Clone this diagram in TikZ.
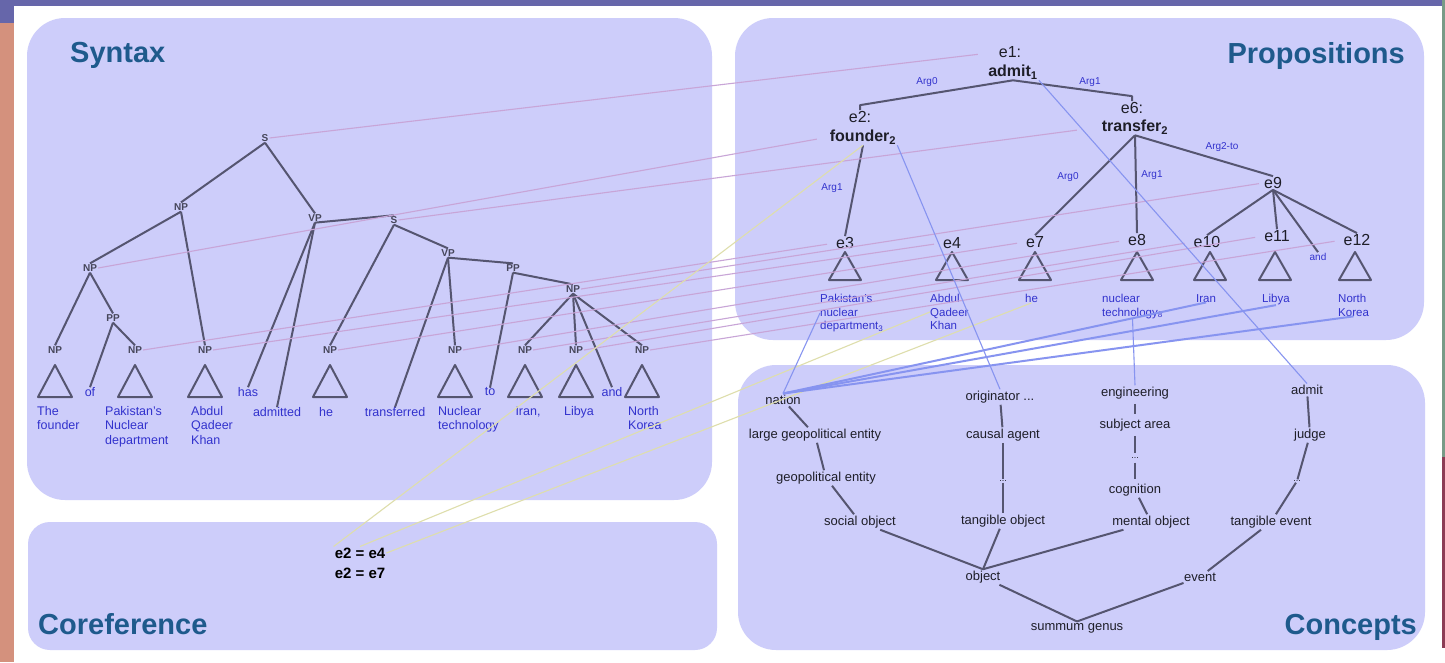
\documentclass[tikz,border=0pt]{standalone}
\usepackage{fontspec}
\setmainfont{Liberation Sans}
\usetikzlibrary{calc}

\definecolor{panelfill}{RGB}{205,205,250}
\definecolor{titleblue}{RGB}{30,90,140}
\definecolor{treeline}{RGB}{85,85,112}
\definecolor{catgray}{RGB}{70,70,90}
\definecolor{leafblue}{RGB}{50,50,205}
\definecolor{proptext}{RGB}{30,30,40}
\definecolor{concepttext}{RGB}{30,30,40}
\definecolor{pinkline}{RGB}{200,165,215}
\definecolor{blueline}{RGB}{135,148,240}
\definecolor{yellowline}{RGB}{222,222,172}
\definecolor{barpurple}{RGB}{102,102,170}
\definecolor{salmon}{RGB}{212,145,125}
\definecolor{sidegreen}{RGB}{120,155,135}
\definecolor{sidemaroon}{RGB}{140,60,85}

\tikzset{
  treeedge/.style={draw=treeline, line width=2pt, line join=round},
  thinedge/.style={draw=treeline, line width=1.6pt},
  catlabel/.style={font=\bfseries\fontsize{10}{11}\selectfont, text=catgray, inner sep=1pt},
  leaf/.style={font=\fontsize{12.5}{14.5}\selectfont, text=leafblue, inner sep=0pt, align=left},
  argl/.style={font=\fontsize{10}{11}\selectfont, text=leafblue, inner sep=1pt},
  eid/.style={font=\fontsize{16}{18}\selectfont, text=proptext, inner sep=1pt},
  pred/.style={font=\bfseries\fontsize{16}{18}\selectfont, text=proptext, inner sep=1pt},
  pleaf/.style={font=\fontsize{11.5}{13.5}\selectfont, text=leafblue, inner sep=0pt, align=left},
  concept/.style={font=\fontsize{13}{15}\selectfont, text=concepttext, inner sep=1.5pt},
  dotsnode/.style={font=\fontsize{9}{10}\selectfont, text=concepttext, inner sep=1pt},
  paneltitle/.style={font=\bfseries\fontsize{29}{32}\selectfont, text=titleblue, inner sep=0pt},
  corefnode/.style={font=\bfseries\fontsize{15}{17}\selectfont, text=black, inner sep=1pt},
  panel/.style={fill=panelfill, rounded corners=38pt},
  pinklink/.style={draw=pinkline, line width=1.1pt},
  bluelink/.style={draw=blueline, line width=1.1pt},
  bluethick/.style={draw=blueline, line width=2pt},
  yellowlink/.style={draw=yellowline, line width=1.1pt},
  stri/.pic={\draw[treeedge] (0,0) -- (-17,32) -- (17,32) -- cycle;},
  ptri/.pic={\draw[treeedge] (0,0) -- (-16,28) -- (16,28) -- cycle;}
}

\begin{document}
\begin{tikzpicture}[x=1pt,y=-1pt]
\useasboundingbox (0,0) rectangle (1445,662);

% page frame
\fill[white] (0,0) rectangle (1445,662);
\fill[barpurple] (0,0) rectangle (1442,6);
\fill[barpurple] (0,0) rectangle (14,23);
\fill[salmon] (0,23) rectangle (14,662);
\fill[sidegreen] (1442,0) rectangle (1445,457);
\fill[sidemaroon] (1442,457) rectangle (1445,648);

% panels
\fill[panel] (27,18) rectangle (712,500);
\fill[panel, rounded corners=22pt] (28,522) rectangle (717,650);
\fill[panel] (735,18) rectangle (1424,340);
\fill[panel] (738,365) rectangle (1425,650);

% panel titles
\node[paneltitle, anchor=base west] (tSyn) at (70,62) {Syntax};
\node[paneltitle, anchor=base east] (tProp) at (1405,63) {Propositions};
\node[paneltitle, anchor=base west] (tCoref) at (38,634) {Coreference};
\node[paneltitle, anchor=base east] (tConc) at (1417,634) {Concepts};

% ---------------- syntax tree ----------------
\node[catlabel] (sS) at (265,138) {S};
\node[catlabel] (sNPa) at (181,207) {NP};
\node[catlabel] (sVPa) at (315,218) {VP};
\node[catlabel] (sS2) at (394,220) {S};
\node[catlabel] (sNPb) at (90,268) {NP};
\node[catlabel] (sVPb) at (448,253) {VP};
\node[catlabel] (sPPb) at (513,268) {PP};
\node[catlabel] (sNPc) at (573,289) {NP};
\node[catlabel] (sPPa) at (113,318) {PP};
\foreach \n/\x in {1/55,2/135,3/205,4/330,5/455,6/525,7/576,8/642}{
  \node[catlabel] (n\n) at (\x,350) {NP};
  \pic at (\x,365) {stri};
}

\node[leaf, anchor=north west] (wThe) at (37,406) {The\\founder};
\node[leaf] (wOf) at (90,392) {of};
\node[leaf, anchor=north west] (wPak) at (105,406) {Pakistan's\\Nuclear\\department};
\node[leaf, anchor=north west] (wAbd) at (191,406) {Abdul\\Qadeer\\Khan};
\node[leaf] (wHas) at (248,392) {has};
\node[leaf] (wAdm) at (277,412) {admitted};
\node[leaf] (wHe) at (326,412) {he};
\node[leaf] (wTra) at (395,412) {transferred};
\node[leaf, anchor=north west] (wNuc) at (438,406) {Nuclear\\technology};
\node[leaf] (wTo) at (490,392) {to};
\node[leaf] (wIran) at (528,412) {Iran,};
\node[leaf] (wLib) at (579,412) {Libya};
\node[leaf] (wAnd) at (612,392) {and};
\node[leaf, anchor=north west] (wNK) at (628,406) {North\\Korea};

\draw[treeedge] (sS.south) -- (sNPa.north);
\draw[treeedge] (sS.south) -- (sVPa.north);
\draw[treeedge] (sNPa.south) -- (sNPb.north);
\draw[treeedge] (sNPa.south) -- (n3.north);
\draw[treeedge] (sNPb.south) -- (n1.north);
\draw[treeedge] (sNPb.south) -- (sPPa.north);
\draw[treeedge] (sPPa.south) -- (wOf.north);
\draw[treeedge] (sPPa.south) -- (n2.north);
\draw[treeedge] (sVPa.south) -- (wHas.north);
\draw[treeedge] (sVPa.south) -- (wAdm.north);
\draw[treeedge] (sVPa.south) -- (sS2.north);
\draw[treeedge] (sS2.south) -- (n4.north);
\draw[treeedge] (sS2.south) -- (sVPb.north);
\draw[treeedge] (sVPb.south) -- (wTra.north);
\draw[treeedge] (sVPb.south) -- (n5.north);
\draw[treeedge] (sVPb.south) -- (sPPb.north);
\draw[treeedge] (sPPb.south) -- (wTo.north);
\draw[treeedge] (sPPb.south) -- (sNPc.north);
\draw[treeedge] (sNPc.south) -- (n6.north);
\draw[treeedge] (sNPc.south) -- (n7.north);
\draw[treeedge] (sNPc.south) -- (wAnd.north);
\draw[treeedge] (sNPc.south) -- (n8.north);

% ---------------- propositions ----------------
\node[eid] (e1) at (1010,52) {e1:};
\node[pred] (admit) at (1013,72) {admit\textsubscript{1}};
\node[eid] (e2) at (860,117) {e2:};
\node[pred] (founder) at (863,137) {founder\textsubscript{2}};
\node[eid] (e6) at (1132,108) {e6:};
\node[pred] (transfer) at (1135,127) {transfer\textsubscript{2}};
\node[eid] (e9) at (1273,183) {e9};
\foreach \nm/\x/\y in {e3/845/243, e4/952/243, e7/1035/242, e8/1137/240, e10/1207/242, e11/1277/236, e12/1357/240}{
  \node[eid] (\nm) at (\x,\y) {\nm};
}
\foreach \x in {845,952,1035,1137,1210,1275,1355}{
  \pic at (\x,252) {ptri};
}
\node[argl] (pand) at (1318,257) {and};

\node[argl] (a1) at (927,82) {Arg0};
\node[argl] (a2) at (1090,82) {Arg1};
\node[argl] (a3) at (832,188) {Arg1};
\node[argl] (a4) at (1068,177) {Arg0};
\node[argl] (a5) at (1152,175) {Arg1};
\node[argl] (a6) at (1222,147) {Arg2-to};

\node[pleaf, anchor=north west] (pPak) at (820,294) {Pakistan's\\nuclear\\department\textsubscript{3}};
\node[pleaf, anchor=north west] (pAbd) at (930,294) {Abdul\\Qadeer\\Khan};
\node[pleaf, anchor=north west] (pHe) at (1025,294) {he};
\node[pleaf, anchor=north west] (pNuc) at (1102,294) {nuclear\\technology\textsubscript{8}};
\node[pleaf, anchor=north west] (pIran) at (1196,294) {Iran};
\node[pleaf, anchor=north west] (pLib) at (1262,294) {Libya};
\node[pleaf, anchor=north west] (pNK) at (1338,294) {North\\Korea};

\draw[treeedge] (admit.south) -- ([yshift=5pt]e2.north) -- (e2.north);
\draw[treeedge] (admit.south) -- ([yshift=5pt]e6.north) -- (e6.north);
\draw[treeedge] (founder.south) -- (e3.north);
\draw[treeedge] (transfer.south) -- (e7.north);
\draw[treeedge] (transfer.south) -- (e8.north);
\draw[treeedge] (transfer.south) -- (e9.north);
\draw[treeedge] (e9.south) -- (e10.north);
\draw[treeedge] (e9.south) -- (e11.north);
\draw[treeedge] (e9.south) -- (pand.north);
\draw[treeedge] (e9.south) -- (e12.north);

% ---------------- concepts ----------------
\node[concept] (nation) at (783,400) {nation};
\node[concept] (large) at (815,435) {large geopolitical entity};
\node[concept] (geo) at (826,478) {geopolitical entity};
\node[concept] (social) at (860,522) {social object};
\node[concept] (orig) at (1000,397) {originator ...};
\node[concept] (causal) at (1003,435) {causal agent};
\node[dotsnode] (dotsA) at (1003,481) {...};
\node[concept] (tangible) at (1003,521) {tangible object};
\node[concept] (eng) at (1135,393) {engineering};
\node[concept] (subj) at (1135,425) {subject area};
\node[dotsnode] (dotsB) at (1135,458) {...};
\node[concept] (cog) at (1135,490) {cognition};
\node[concept] (mental) at (1151,522) {mental object};
\node[concept] (admitc) at (1307,390) {admit};
\node[concept] (judge) at (1310,435) {judge};
\node[dotsnode] (dotsC) at (1297,481) {...};
\node[concept] (tevent) at (1271,522) {tangible event};
\node[concept] (object) at (983,577) {object};
\node[concept] (event) at (1200,577) {event};
\node[concept] (summum) at (1077,628) {summum genus};

\draw[treeedge] (nation) -- (large);
\draw[treeedge] (large) -- (geo);
\draw[treeedge] (geo) -- (social);
\draw[treeedge] (orig) -- (causal);
\draw[treeedge] (causal) -- (dotsA);
\draw[treeedge] (dotsA) -- (tangible);
\draw[thinedge, shorten <=3pt, shorten >=3pt] (eng) -- (subj);
\draw[thinedge, shorten <=3pt, shorten >=3pt] (subj) -- (dotsB);
\draw[thinedge, shorten <=3pt, shorten >=3pt] (dotsB) -- (cog);
\draw[treeedge] (cog) -- (mental);
\draw[treeedge] (admitc) -- (judge);
\draw[treeedge] (judge) -- (dotsC);
\draw[treeedge] (dotsC) -- (tevent);
\draw[treeedge] (social) -- (object.north);
\draw[treeedge] (tangible) -- (object.north);
\draw[treeedge] (mental) -- (object.north);
\draw[treeedge] (tevent) -- (event);
\draw[treeedge] (object) -- (summum.north);
\draw[treeedge] (event) -- (summum.north);

% ---------------- coreference ----------------
\node[corefnode] (c1) at (360,553) {e2 = e4};
\node[corefnode] (c2) at (360,573) {e2 = e7};

% ---------------- links between levels ----------------
\draw[pinklink, shorten >=20pt] (sS.east) -- (e1.west);
\draw[pinklink, shorten >=12pt] (sNPb.east) -- (founder.west);
\draw[pinklink, shorten >=24pt] (sS2.east) -- (transfer.west);
\draw[pinklink, shorten >=8pt] (n2.east) -- (e3.west);
\draw[pinklink, shorten >=8pt] (n3.east) -- (e4.west);
\draw[pinklink, shorten >=8pt] (n4.east) -- (e7.west);
\draw[pinklink, shorten >=8pt] (n5.east) -- (e8.west);
\draw[pinklink, shorten >=4pt] (sNPc.east) -- (e9.west);
\draw[pinklink, shorten >=8pt] (n6.east) -- (e10.west);
\draw[pinklink, shorten >=8pt] (n7.east) -- (e11.west);
\draw[pinklink, shorten >=8pt] (n8.east) -- (e12.west);

\draw[yellowlink] (c1.north west) -- (founder.south);
\draw[yellowlink] (c1.north) -- (pAbd.west);
\draw[yellowlink] (c1.east) -- (pHe.south);

\draw[bluelink] (founder.south east) -- (orig.north);
\draw[bluelink] (admit.south east) -- (admitc.north);
\draw[bluelink] (pPak.west) -- (nation.north);
\draw[bluelink] (pNuc.south) -- (eng.north);
\draw[bluethick] (pIran.south) -- (nation.north);
\draw[bluethick] (pLib.south) -- (nation.north);
\draw[bluethick] (pNK.south) -- (nation.north);
\end{tikzpicture}
\end{document}
